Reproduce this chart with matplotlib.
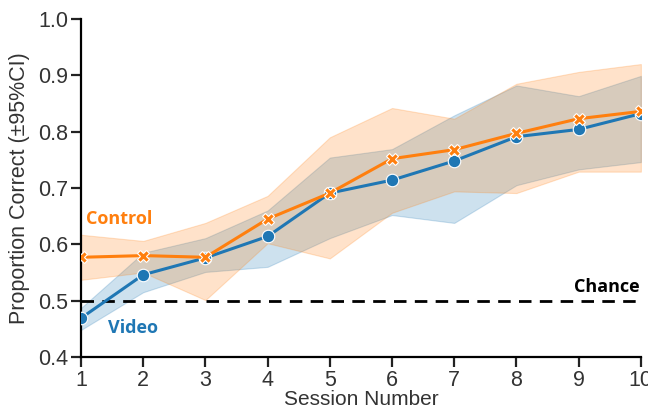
import matplotlib
matplotlib.use("Agg")
import matplotlib.pyplot as plt
import numpy as np

plt.rcParams['font.family'] = ['Liberation Sans', 'DejaVu Sans']

sessions = [1, 2, 3, 4, 5, 6, 7, 8, 9, 10]

video_mean = [0.469, 0.546, 0.576, 0.614, 0.691, 0.714, 0.748, 0.791, 0.804, 0.832]
video_lo = [0.448, 0.515, 0.551, 0.560, 0.611, 0.652, 0.638, 0.705, 0.733, 0.746]
video_hi = [0.487, 0.585, 0.611, 0.660, 0.754, 0.769, 0.829, 0.882, 0.863, 0.899]

control_mean = [0.577, 0.580, 0.577, 0.645, 0.691, 0.752, 0.768, 0.797, 0.823, 0.836]
control_lo = [0.537, 0.550, 0.501, 0.602, 0.575, 0.656, 0.694, 0.691, 0.729, 0.729]
control_hi = [0.617, 0.606, 0.638, 0.686, 0.790, 0.842, 0.823, 0.885, 0.906, 0.920]

chance = 0.5
blue = '#1f77b4'
orange = '#ff7f0e'

fig = plt.figure(figsize=(6.48, 4.11), dpi=100)
ax = fig.add_axes([0.125, 0.1314, 0.864, 0.8224])

ax.fill_between(sessions, video_lo, video_hi, color=blue, alpha=0.22, lw=0.8)
ax.fill_between(sessions, control_lo, control_hi, color=orange, alpha=0.22, lw=0.8)

ax.plot(sessions, video_mean, color=blue, lw=2.2, marker='o', ms=9,
        mec='white', mew=0.8, zorder=4)
ax.plot(sessions, control_mean, color=orange, lw=2.2, marker='X', ms=9,
        mec='white', mew=0.8, zorder=5)

ax.axhline(chance, color='black', lw=2, ls=(0, (4.5, 3)), zorder=3)

ax.set_xlim(1, 10)
ax.set_ylim(0.4, 1.0)
ax.set_xticks(sessions)
ax.set_yticks([0.4, 0.5, 0.6, 0.7, 0.8, 0.9, 1.0])
ax.set_yticklabels(['0.4', '0.5', '0.6', '0.7', '0.8', '0.9', '1.0'])

for side in ['top', 'right']:
    ax.spines[side].set_visible(False)
for side in ['left', 'bottom']:
    ax.spines[side].set_linewidth(1.6)
ax.tick_params(axis='both', direction='out', length=7, width=1.6,
               labelsize=15.5, colors='#222222')
ax.tick_params(axis='x', pad=2.5)
ax.tick_params(axis='y', pad=2)
ax.tick_params(axis='both', labelcolor='#333333')

ax.set_xlabel('Session Number', fontsize=15, color='#333333', labelpad=-1)
ax.set_ylabel('Proportion Correct (±95%CI)', fontsize=15.5, color='#333333', labelpad=6)

anno_font = ['Open Sans', 'DejaVu Sans']
ax.text(1.08, 0.645, 'Control', color=orange, fontsize=13, fontweight='bold',
        family=anno_font, va='center', ha='left')
ax.text(1.43, 0.452, 'Video', color=blue, fontsize=13, fontweight='bold',
        family=anno_font, va='center', ha='left')
ax.text(9.98, 0.525, 'Chance', color='black', fontsize=13, fontweight='bold',
        family=anno_font, va='center', ha='right')

fig.savefig('out.png', dpi=100)
